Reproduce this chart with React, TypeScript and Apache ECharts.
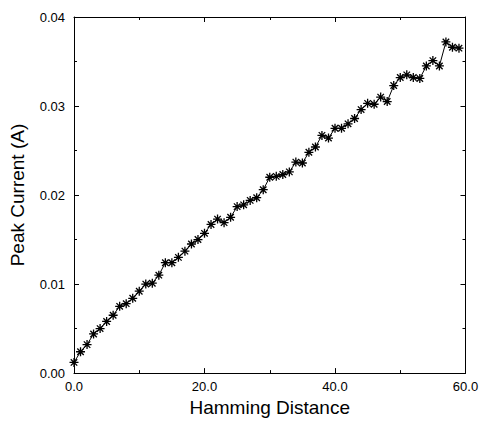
import React, { useEffect, useRef } from "react";
import * as echarts from "echarts";

const hammingDistance: number[] = Array.from({ length: 60 }, (_, i) => i);
const peakCurrent: number[] = [
  0.0012, 0.0024, 0.0032, 0.0044, 0.005, 0.0058, 0.0065, 0.0075, 0.0078, 0.0084,
  0.0092, 0.01, 0.0101, 0.011, 0.0124, 0.0124, 0.013, 0.0137, 0.0145, 0.015,
  0.0157, 0.0167, 0.0173, 0.0169, 0.0175, 0.0187, 0.0189, 0.0194, 0.0197, 0.0206,
  0.022, 0.0221, 0.0223, 0.0226, 0.0237, 0.0236, 0.0248, 0.0254, 0.0267, 0.0264,
  0.0275, 0.0275, 0.028, 0.0286, 0.0296, 0.0303, 0.0302, 0.031, 0.0305, 0.0323,
  0.0332, 0.0335, 0.0332, 0.0331, 0.0345, 0.0351, 0.0345, 0.0372, 0.0366, 0.0365,
];

const FONT = "'Liberation Sans', Arial, sans-serif";
const ASTERISK =
  "path://M0,-5L0,5M-5,0L5,0M-3.6,-3.6L3.6,3.6M-3.6,3.6L3.6,-3.6";

export default function App() {
  const ref = useRef<HTMLDivElement>(null);
  useEffect(() => {
    if (!ref.current) return;
    const chart = echarts.init(ref.current, undefined, { renderer: "svg" });
    const axisLine = { show: true, onZero: false, lineStyle: { color: "#000", width: 1 } };
    chart.setOption({
      animation: false,
      backgroundColor: "#fff",
      grid: { left: 72.5, right: 16.5, top: 17, bottom: 46 },
      xAxis: [
        {
          type: "value",
          min: 0,
          max: 60,
          interval: 20,
          axisLine,
          axisTick: { inside: true, length: 5, lineStyle: { color: "#000" } },
          minorTick: { show: true, splitNumber: 2, length: 3, lineStyle: { color: "#000" } },
          splitLine: { show: false },
          axisLabel: {
            color: "#000",
            fontSize: 13,
            fontFamily: FONT,
            margin: 7,
            formatter: (v: number) => v.toFixed(1),
          },
          name: "Hamming Distance",
          nameLocation: "middle",
          nameGap: 22,
          nameTextStyle: { color: "#000", fontSize: 19, fontFamily: FONT },
        },
        {
          type: "value",
          position: "top",
          min: 0,
          max: 60,
          interval: 20,
          axisLine,
          axisTick: { inside: true, length: 5, lineStyle: { color: "#000" } },
          minorTick: { show: true, splitNumber: 2, length: 3, lineStyle: { color: "#000" } },
          splitLine: { show: false },
          axisLabel: { show: false },
        },
      ],
      yAxis: [
        {
          type: "value",
          min: 0,
          max: 0.04,
          interval: 0.01,
          axisLine,
          axisTick: { inside: true, length: 5, lineStyle: { color: "#000" } },
          minorTick: { show: true, splitNumber: 2, length: 3, lineStyle: { color: "#000" } },
          splitLine: { show: false },
          axisLabel: {
            color: "#000",
            fontSize: 13,
            fontFamily: FONT,
            margin: 9,
            formatter: (v: number) => v.toFixed(2),
          },
          name: "Peak Current (A)",
          nameLocation: "middle",
          nameGap: 47,
          nameTextStyle: { color: "#000", fontSize: 19, fontFamily: FONT },
        },
        {
          type: "value",
          position: "right",
          min: 0,
          max: 0.04,
          interval: 0.01,
          axisLine,
          axisTick: { inside: true, length: 5, lineStyle: { color: "#000" } },
          minorTick: { show: true, splitNumber: 2, length: 3, lineStyle: { color: "#000" } },
          splitLine: { show: false },
          axisLabel: { show: false },
        },
      ],
      series: [
        {
          type: "line",
          data: hammingDistance.map((x, i) => [x, peakCurrent[i]]),
          lineStyle: { color: "#000", width: 1 },
          symbol: ASTERISK,
          symbolSize: 9,
          showSymbol: true,
          itemStyle: { color: "none", borderColor: "#000", borderWidth: 1.3 },
          emphasis: { disabled: true },
        },
      ],
    });
    return () => chart.dispose();
  }, []);
  return (
    <div
      ref={ref}
      style={{ position: "fixed", left: 0, top: 0, width: 482, height: 422, background: "#fff" }}
    />
  );
}
